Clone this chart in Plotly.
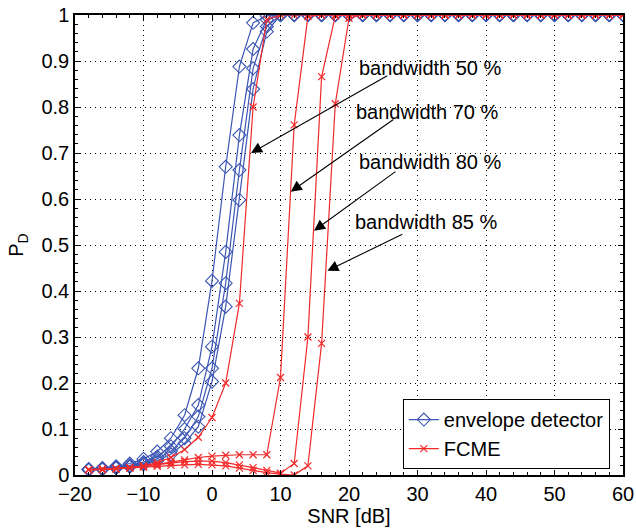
import plotly.graph_objects as go

SNR = list(range(-18, 61, 2))

# envelope detector (blue)
ENV_50 = [0.013, 0.015, 0.019, 0.025, 0.035, 0.051, 0.080, 0.130, 0.232, 0.422,
          0.670, 0.888, 0.983, 0.998, 1, 1, 1, 1, 1, 1,
          1, 1, 1, 1, 1, 1, 1, 1, 1, 1,
          1, 1, 1, 1, 1, 1, 1, 1, 1, 1]
ENV_70 = [0.012, 0.014, 0.017, 0.021, 0.028, 0.040, 0.062, 0.100, 0.152, 0.279,
          0.485, 0.739, 0.926, 0.990, 1, 1, 1, 1, 1, 1,
          1, 1, 1, 1, 1, 1, 1, 1, 1, 1,
          1, 1, 1, 1, 1, 1, 1, 1, 1, 1]
ENV_80 = [0.012, 0.013, 0.016, 0.019, 0.025, 0.035, 0.052, 0.080, 0.127, 0.232,
          0.417, 0.663, 0.884, 0.975, 1, 1, 1, 1, 1, 1,
          1, 1, 1, 1, 1, 1, 1, 1, 1, 1,
          1, 1, 1, 1, 1, 1, 1, 1, 1, 1]
ENV_85 = [0.011, 0.013, 0.015, 0.018, 0.023, 0.031, 0.045, 0.069, 0.105, 0.203,
          0.366, 0.598, 0.839, 0.964, 1, 1, 1, 1, 1, 1,
          1, 1, 1, 1, 1, 1, 1, 1, 1, 1,
          1, 1, 1, 1, 1, 1, 1, 1, 1, 1]

# FCME (red)
FCME_50 = [0.012, 0.013, 0.014, 0.016, 0.020, 0.027, 0.038, 0.055, 0.082, 0.125,
           0.200, 0.373, 0.800, 0.990, 1, 1, 1, 1, 1, 1,
           1, 1, 1, 1, 1, 1, 1, 1, 1, 1,
           1, 1, 1, 1, 1, 1, 1, 1, 1, 1]
FCME_70 = [0.011, 0.012, 0.014, 0.016, 0.019, 0.023, 0.028, 0.033, 0.038, 0.041,
           0.043, 0.044, 0.044, 0.044, 0.212, 0.761, 0.997, 1, 1, 1,
           1, 1, 1, 1, 1, 1, 1, 1, 1, 1,
           1, 1, 1, 1, 1, 1, 1, 1, 1, 1]
FCME_80 = [0.011, 0.012, 0.014, 0.016, 0.019, 0.022, 0.026, 0.029, 0.030, 0.030,
           0.027, 0.022, 0.016, 0.010, 0.004, 0.025, 0.300, 0.866, 0.998, 1,
           1, 1, 1, 1, 1, 1, 1, 1, 1, 1,
           1, 1, 1, 1, 1, 1, 1, 1, 1, 1]
FCME_85 = [0.011, 0.012, 0.013, 0.015, 0.017, 0.019, 0.021, 0.022, 0.023, 0.022,
           0.020, 0.015, 0.010, 0.005, 0.002, 0.000, 0.020, 0.286, 0.807, 0.993,
           1, 1, 1, 1, 1, 1, 1, 1, 1, 1,
           1, 1, 1, 1, 1, 1, 1, 1, 1, 1]

ENV_SERIES = [ENV_50, ENV_70, ENV_80, ENV_85]
FCME_SERIES = [FCME_50, FCME_70, FCME_80, FCME_85]

LABELS = ["bandwidth 50 %", "bandwidth 70 %", "bandwidth 80 %", "bandwidth 85 %"]
LABEL_POS = [(21.1, 0.885), (20.7, 0.789), (21.1, 0.680), (20.6, 0.550)]
ARROW_TAIL = [(25.8, 0.870), (26.7, 0.775), (27.0, 0.662), (28.0, 0.525)]
ARROW_HEAD = [(5.7, 0.700), (11.5, 0.616), (14.9, 0.531), (16.85, 0.444)]

BLUE = "#3a55b4"
RED = "#f22a2a"
FONT = "Liberation Sans, Arial, sans-serif"
FS = 20

fig = go.Figure()
for i, ys in enumerate(ENV_SERIES):
    fig.add_trace(go.Scatter(
        x=SNR, y=ys, mode="lines+markers", name="envelope detector",
        showlegend=(i == 0), legendgroup="env",
        line=dict(color=BLUE, width=1.2),
        marker=dict(symbol="diamond-open", size=10, color=BLUE,
                    line=dict(color=BLUE, width=1.1)),
    ))
for i, ys in enumerate(FCME_SERIES):
    fig.add_trace(go.Scatter(
        x=SNR, y=ys, mode="lines+markers", name="FCME",
        showlegend=(i == 0), legendgroup="fcme",
        line=dict(color=RED, width=1.2),
        marker=dict(symbol="x-thin", size=7, color=RED,
                    line=dict(color=RED, width=1.2)),
    ))

annotations = []
for lab, (tx, ty) in zip(LABELS, LABEL_POS):
    annotations.append(dict(x=tx, y=ty, xref="x", yref="y", text=lab,
                            showarrow=False, xanchor="left", yanchor="middle",
                            font=dict(size=FS, color="black", family=FONT)))
for (hx, hy), (ax, ay) in zip(ARROW_HEAD, ARROW_TAIL):
    annotations.append(dict(x=hx, y=hy, ax=ax, ay=ay, xref="x", yref="y",
                            axref="x", ayref="y", text="", showarrow=True,
                            arrowhead=2, arrowsize=2.0, arrowwidth=1.1,
                            arrowcolor="black", standoff=0, startstandoff=0))

axis_common = dict(
    showline=True, linecolor="black", linewidth=1.5, mirror="allticks",
    ticks="inside", ticklen=5, tickwidth=1, tickcolor="black",
    showgrid=True, gridcolor="black", gridwidth=1, griddash="1px,4px",
    zeroline=False, automargin=False,
    tickfont=dict(size=FS, color="black", family=FONT),
)

fig.update_layout(
    width=636, height=531,
    margin=dict(l=75, r=13, t=15, b=56),
    paper_bgcolor="white", plot_bgcolor="white",
    font=dict(family=FONT, size=FS, color="black"),
    xaxis=dict(range=[-20, 60], dtick=10, tick0=0,
               title=dict(text="SNR [dB]", font=dict(size=FS), standoff=2),
               minor=dict(ticks="inside", dtick=2, ticklen=3, tickcolor="black",
                          showgrid=False),
               **axis_common),
    yaxis=dict(range=[0, 1], dtick=0.1, tick0=0,
               title=dict(text="P<sub>D</sub>", font=dict(size=FS), standoff=12),
               minor=dict(ticks="inside", dtick=0.02, ticklen=3, tickcolor="black",
                          showgrid=False),
               **axis_common),
    legend=dict(x=0.976, y=0.089, xanchor="right", yanchor="middle",
                bgcolor="white", bordercolor="black", borderwidth=1,
                font=dict(size=FS, family=FONT), itemwidth=30,
                tracegroupgap=0),
    annotations=annotations,
    showlegend=True,
)

fig.write_html("out.html")
